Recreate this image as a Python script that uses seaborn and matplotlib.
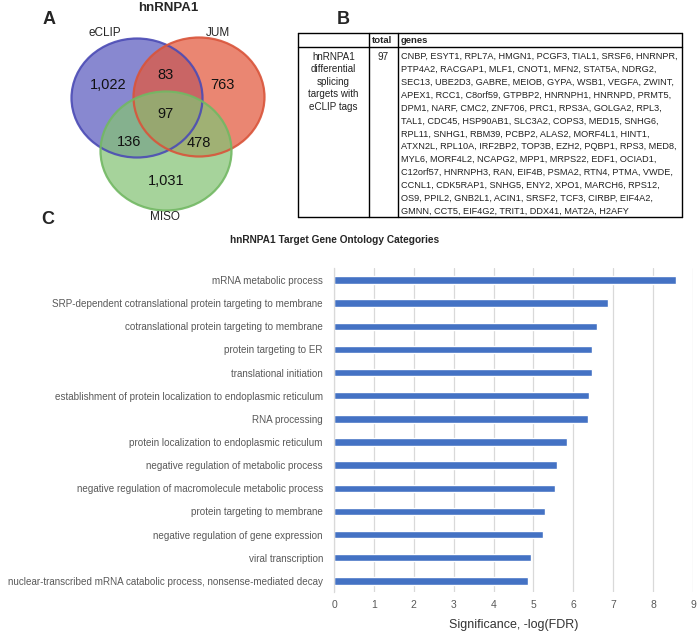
import matplotlib
matplotlib.use("Agg")
import matplotlib.pyplot as plt
from matplotlib.patches import Ellipse
import seaborn as sns
import pandas as pd

# ---- data ----
venn_sets = ['eCLIP', 'JUM', 'MISO']
venn_counts = ['1,022', '83', '763', '97', '136', '478', '1,031']

table_header = ['', 'total', 'genes']
table_row_label = 'hnRNPA1\ndifferential\nsplicing\ntargets with\neCLIP tags'
table_total = '97'
gene_lines = [
    'CNBP, ESYT1, RPL7A, HMGN1, PCGF3, TIAL1, SRSF6, HNRNPR,',
    'PTP4A2, RACGAP1, MLF1, CNOT1, MFN2, STAT5A, NDRG2,',
    'SEC13, UBE2D3, GABRE, MEIOB, GYPA, WSB1, VEGFA, ZWINT,',
    'APEX1, RCC1, C8orf59, GTPBP2, HNRNPH1, HNRNPD, PRMT5,',
    'DPM1, NARF, CMC2, ZNF706, PRC1, RPS3A, GOLGA2, RPL3,',
    'TAL1, CDC45, HSP90AB1, SLC3A2, COPS3, MED15, SNHG6,',
    'RPL11, SNHG1, RBM39, PCBP2, ALAS2, MORF4L1, HINT1,',
    'ATXN2L, RPL10A, IRF2BP2, TOP3B, EZH2, PQBP1, RPS3, MED8,',
    'MYL6, MORF4L2, NCAPG2, MPP1, MRPS22, EDF1, OCIAD1,',
    'C12orf57, HNRNPH3, RAN, EIF4B, PSMA2, RTN4, PTMA, VWDE,',
    'CCNL1, CDK5RAP1, SNHG5, ENY2, XPO1, MARCH6, RPS12,',
    'OS9, PPIL2, GNB2L1, ACIN1, SRSF2, TCF3, CIRBP, EIF4A2,',
    'GMNN, CCT5, EIF4G2, TRIT1, DDX41, MAT2A, H2AFY',
]

go_terms = [
    'mRNA metabolic process',
    'SRP-dependent cotranslational protein targeting to membrane',
    'cotranslational protein targeting to membrane',
    'protein targeting to ER',
    'translational initiation',
    'establishment of protein localization to endoplasmic reticulum',
    'RNA processing',
    'protein localization to endoplasmic reticulum',
    'negative regulation of metabolic process',
    'negative regulation of macromolecule metabolic process',
    'protein targeting to membrane',
    'negative regulation of gene expression',
    'viral transcription',
    'nuclear-transcribed mRNA catabolic process, nonsense-mediated decay',
]
go_scores = [8.57, 6.88, 6.60, 6.48, 6.47, 6.39, 6.38, 5.85, 5.59, 5.54, 5.30, 5.23, 4.95, 4.86]

sns.set_theme(style="white")
plt.rcParams['font.family'] = ['Liberation Sans', 'DejaVu Sans']

fig = plt.figure(figsize=(6.97, 6.34), dpi=100)

# overlay in pixel coordinates for panels A and B
ax0 = fig.add_axes([0, 0, 1, 1])
ax0.set_xlim(0, 697)
ax0.set_ylim(634, 0)
ax0.axis('off')

# panel letters
for letter, (lx, ly) in zip(['A', 'B', 'C'], [(49, 20), (343, 20), (48, 219)]):
    ax0.text(lx, ly, letter, fontsize=13, fontweight='bold', ha='center', va='center')

# ---- panel A: venn ----
ax0.text(168, 8, 'hnRNPA1', fontsize=9.5, fontweight='bold', ha='center', va='center')
circle_style = [
    ((137, 98), '#5a5abf', '#4b4bb5'),
    ((199, 97), '#e3583c', '#d9543a'),
    ((166, 151), '#84c275', '#72b863'),
]
for (c, fc, ec) in circle_style:
    ax0.add_patch(Ellipse(c, 131, 119, facecolor=fc, alpha=0.72, edgecolor='none'))
for (c, fc, ec) in circle_style:
    ax0.add_patch(Ellipse(c, 131, 119, facecolor='none', edgecolor=ec, lw=1.6, alpha=0.9))

for name, (tx, ty) in zip(venn_sets, [(105, 33), (218, 33), (165, 217)]):
    ax0.text(tx, ty, name, fontsize=8.5, ha='center', va='center')
count_pos = [(108, 85), (166, 75), (222, 85), (166, 114), (129, 142), (199, 143), (166, 181)]
for val, (tx, ty) in zip(venn_counts, count_pos):
    ax0.text(tx, ty, val, fontsize=10.5, ha='center', va='center', color='#111111')

# ---- panel B: table ----
tl, tc1, tc2, tr = 298, 369, 398, 682
tt, th, tb = 33, 47, 217
lw = 1.0
for x in [tl, tc1, tc2, tr]:
    ax0.plot([x, x], [tt, tb], color='black', lw=lw)
for y in [tt, th, tb]:
    ax0.plot([tl, tr], [y, y], color='black', lw=lw)
ax0.text(tc1 + 3, (tt + th) / 2 + 0.5, table_header[1], fontsize=6.8, fontweight='bold',
         ha='left', va='center')
ax0.text(tc2 + 3, (tt + th) / 2 + 0.5, table_header[2], fontsize=6.8, fontweight='bold',
         ha='left', va='center')
ax0.text((tl + tc1) / 2, 51.5, table_row_label, fontsize=7.1, ha='center', va='top',
         linespacing=1.33, color='#222222')
ax0.text((tc1 + tc2) / 2, 51.5, table_total, fontsize=7.1, ha='center', va='top', color='#222222')
for i, line in enumerate(gene_lines):
    ax0.text(tc2 + 3, 52 + i * 12.9, line, fontsize=6.55, ha='left', va='top', color='#222222')

# ---- panel C: GO bar chart ----
ax0.text(335, 240, 'hnRNPA1 Target Gene Ontology Categories', fontsize=7.3,
         fontweight='bold', ha='center', va='center')

df_go = pd.DataFrame({'term': go_terms, 'score': go_scores})
ax = fig.add_axes([334 / 697, 1 - 592 / 634, 359 / 697, 324 / 634])
sns.barplot(data=df_go, x='score', y='term', orient='h', color='#4472C4',
            saturation=1, width=0.32, ax=ax)
ax.set_xlim(0, 9)
ax.set_xticks(range(10))
ax.set_ylim(13.48, -0.52)
ax.grid(axis='x', color='#d9d9d9', lw=0.9)
ax.grid(axis='y', visible=False)
ax.set_axisbelow(True)
for s in ['top', 'right', 'bottom']:
    ax.spines[s].set_visible(False)
ax.spines['left'].set_color('#d9d9d9')
ax.spines['left'].set_linewidth(0.9)
ax.tick_params(axis='both', length=0, colors='#595959')
ax.tick_params(axis='y', labelsize=7.15, pad=8)
ax.tick_params(axis='x', labelsize=7.5, pad=6)
ax.set_ylabel('')
ax.set_xlabel('Significance, -log(FDR)', fontsize=9, color='#333333', labelpad=6)

plt.savefig('out.png', dpi=100)
plt.close()
